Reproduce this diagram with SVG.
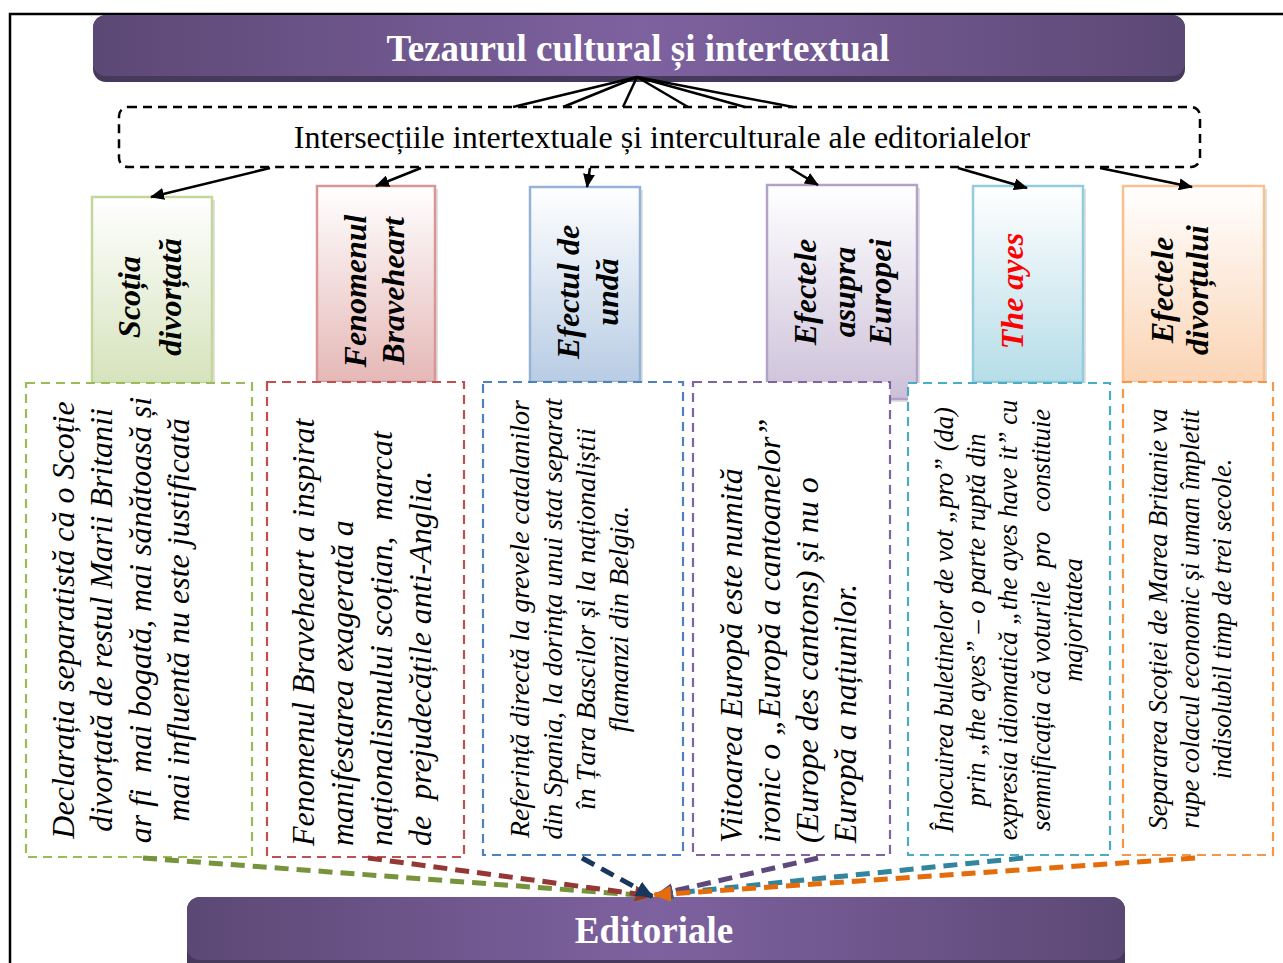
<svg xmlns="http://www.w3.org/2000/svg" width="1283" height="963" viewBox="0 0 1283 963">
<defs>
<style>
.banner-t{font-family:"Liberation Serif","Times New Roman",serif;font-weight:bold;font-size:37px;fill:#fff;text-anchor:middle}
.mid-t{font-family:"Liberation Serif","Times New Roman",serif;font-size:32px;fill:#000;text-anchor:middle}
.head-t{font-family:"Liberation Serif","Times New Roman",serif;font-weight:bold;font-style:italic;font-size:32px;fill:#000;text-anchor:middle}
.body-t{font-family:"Liberation Serif","Times New Roman",serif;font-style:italic;font-size:32px;fill:#000;white-space:pre}
.hbox{stroke-width:2.5}
.tbox{fill:#fff;stroke-width:2.2;stroke-dasharray:9 6}
.topline{stroke:#000;stroke-width:2.5;fill:none}
.arr{stroke:#000;stroke-width:2.5;fill:none;marker-end:url(#ak)}
.barr{stroke-width:5;stroke-dasharray:14 8;fill:none}
</style>
<linearGradient id="bannerG" x1="0" y1="0" x2="1" y2="0">
<stop offset="0" stop-color="#5c4875"/><stop offset="0.5" stop-color="#7e62a0"/><stop offset="1" stop-color="#5c4875"/>
</linearGradient>
<linearGradient id="gG" x1="0" y1="0" x2="0" y2="1"><stop offset="0" stop-color="#fff"/><stop offset="1" stop-color="#d6e3bc"/></linearGradient>
<linearGradient id="gR" x1="0" y1="0" x2="0" y2="1"><stop offset="0" stop-color="#fff"/><stop offset="1" stop-color="#e5b8b7"/></linearGradient>
<linearGradient id="gB" x1="0" y1="0" x2="0" y2="1"><stop offset="0" stop-color="#fff"/><stop offset="1" stop-color="#b8cce4"/></linearGradient>
<linearGradient id="gP" x1="0" y1="0" x2="0" y2="1"><stop offset="0" stop-color="#fff"/><stop offset="1" stop-color="#ccc0d9"/></linearGradient>
<linearGradient id="gT" x1="0" y1="0" x2="0" y2="1"><stop offset="0" stop-color="#fff"/><stop offset="1" stop-color="#b6dde8"/></linearGradient>
<linearGradient id="gO" x1="0" y1="0" x2="0" y2="1"><stop offset="0" stop-color="#fff"/><stop offset="1" stop-color="#fbd4b4"/></linearGradient>
<marker id="ak" viewBox="0 0 14 12" refX="13" refY="6" markerWidth="14" markerHeight="12" markerUnits="userSpaceOnUse" orient="auto"><path d="M0,0 L14,6 L0,12 z" fill="#000"/></marker>
<marker id="mG" viewBox="0 0 18 16" refX="17" refY="8" markerWidth="18" markerHeight="16" markerUnits="userSpaceOnUse" orient="auto"><path d="M0,0 L18,8 L0,16 z" fill="#77933c"/></marker>
<marker id="mR" viewBox="0 0 18 16" refX="17" refY="8" markerWidth="18" markerHeight="16" markerUnits="userSpaceOnUse" orient="auto"><path d="M0,0 L18,8 L0,16 z" fill="#953735"/></marker>
<marker id="mB" viewBox="0 0 18 16" refX="17" refY="8" markerWidth="18" markerHeight="16" markerUnits="userSpaceOnUse" orient="auto"><path d="M0,0 L18,8 L0,16 z" fill="#17375e"/></marker>
<marker id="mP" viewBox="0 0 18 16" refX="17" refY="8" markerWidth="18" markerHeight="16" markerUnits="userSpaceOnUse" orient="auto"><path d="M0,0 L18,8 L0,16 z" fill="#5f497a"/></marker>
<marker id="mT" viewBox="0 0 18 16" refX="17" refY="8" markerWidth="18" markerHeight="16" markerUnits="userSpaceOnUse" orient="auto"><path d="M0,0 L18,8 L0,16 z" fill="#31859c"/></marker>
<marker id="mO" viewBox="0 0 18 16" refX="17" refY="8" markerWidth="18" markerHeight="16" markerUnits="userSpaceOnUse" orient="auto"><path d="M0,0 L18,8 L0,16 z" fill="#e46c0a"/></marker>
</defs>

<rect x="0" y="0" width="1283" height="963" fill="#fff"/>
<g id="frame">
<path d="M10,975 L10,14 L1290,14" fill="none" stroke="#000" stroke-width="2.5"/>
</g>

<g id="title">
<rect x="93" y="15" width="1092" height="67" rx="13" fill="#47395c"/>
<rect x="93" y="15" width="1092" height="61" rx="13" fill="url(#bannerG)"/>
<text class="banner-t" x="638" y="61">Tezaurul cultural și intertextual</text>
</g>

<g id="intersectii">
<rect x="119" y="107" width="1081" height="60" rx="9" fill="#fff" stroke="#000" stroke-width="2.5" stroke-dasharray="9 6"/>
<text class="mid-t" x="662" y="148">Intersecțiile intertextuale și interculturale ale editorialelor</text>
</g>

<g id="head-scotia">
<rect x="95" y="200" width="120" height="186" fill="#000" opacity="0.12"/>
<rect class="hbox" x="92" y="197" width="120" height="186" fill="url(#gG)" stroke="#c3d69b"/>
<text class="head-t" transform="translate(0,297) rotate(-90)"><tspan x="0" y="140">Scoția</tspan><tspan x="0" y="181">divorțată</tspan></text>
</g>
<g id="head-braveheart">
<rect x="320" y="189" width="118" height="196" fill="#000" opacity="0.12"/>
<rect class="hbox" x="317" y="186" width="118" height="196" fill="url(#gR)" stroke="#d99694"/>
<text class="head-t" transform="translate(0,291) rotate(-90)"><tspan x="0" y="366">Fenomenul</tspan><tspan x="0" y="404">Braveheart</tspan></text>
</g>
<g id="head-unda">
<rect x="533" y="190" width="110" height="195" fill="#000" opacity="0.12"/>
<rect class="hbox" x="530" y="187" width="110" height="195" fill="url(#gB)" stroke="#95b3d7"/>
<text class="head-t" transform="translate(0,292) rotate(-90)"><tspan x="0" y="579">Efectul de</tspan><tspan x="0" y="618">undă</tspan></text>
</g>
<g id="head-europa">
<rect x="770" y="188" width="150" height="214" fill="#000" opacity="0.12"/>
<rect class="hbox" x="767" y="185" width="150" height="214" fill="url(#gP)" stroke="#b3a2c7"/>
<text class="head-t" transform="translate(0,292) rotate(-90)"><tspan x="0" y="816">Efectele</tspan><tspan x="0" y="855">asupra</tspan><tspan x="0" y="891">Europei</tspan></text>
</g>
<g id="head-ayes">
<rect x="976" y="189" width="110" height="196" fill="#000" opacity="0.12"/>
<rect class="hbox" x="973" y="186" width="110" height="196" fill="url(#gT)" stroke="#93cddd"/>
<text class="head-t" transform="translate(0,291) rotate(-90)" style="fill:#ff0000"><tspan x="0" y="1023">The ayes</tspan></text>
</g>
<g id="head-divort">
<rect x="1126" y="189" width="141" height="196" fill="#000" opacity="0.12"/>
<rect class="hbox" x="1123" y="186" width="141" height="196" fill="url(#gO)" stroke="#fac090"/>
<text class="head-t" transform="translate(0,290) rotate(-90)"><tspan x="0" y="1173">Efectele</tspan><tspan x="0" y="1208">divorțului</tspan></text>
</g>

<g id="text-scotia">
<rect class="tbox" x="26" y="383" width="226" height="474" stroke="#9bbb59"/>
<text class="body-t" transform="translate(0,620) rotate(-90)" text-anchor="middle"><tspan x="0" y="74">Declarația separatistă că o Scoție</tspan><tspan x="0" y="112">divorțată de restul Marii Britanii</tspan><tspan x="0" y="151">ar fi  mai bogată, mai sănătoasă și</tspan><tspan x="0" y="189">mai influentă nu este justificată</tspan></text>
</g>
<g id="text-braveheart">
<rect class="tbox" x="267" y="382" width="197" height="475" stroke="#c0504d"/>
<text class="body-t" transform="translate(0,846) rotate(-90)" text-anchor="start"><tspan x="0" y="314">Fenomenul Braveheart a inspirat</tspan><tspan x="0" y="353">manifestarea exagerată a</tspan><tspan x="0" y="392">naționalismului scoțian,  marcat</tspan><tspan x="0" y="431">de  prejudecățile anti-Anglia.</tspan></text>
</g>
<g id="text-unda">
<rect class="tbox" x="483" y="382" width="200" height="473" stroke="#4f81bd"/>
<text class="body-t" transform="translate(0,619) rotate(-90)" text-anchor="middle" style="font-size:28px"><tspan x="0" y="529">Referință directă la grevele catalanilor</tspan><tspan x="0" y="562">din Spania, la dorința unui stat separat</tspan><tspan x="0" y="595">în Țara Bascilor și la naționaliștii</tspan><tspan x="0" y="628">flamanzi din Belgia.</tspan></text>
</g>
<g id="text-europa">
<rect class="tbox" x="693" y="382" width="197" height="473" stroke="#8064a2"/>
<text class="body-t" transform="translate(0,843) rotate(-90)" text-anchor="start"><tspan x="0" y="742">Viitoarea Europă este numită</tspan><tspan x="0" y="780">ironic o „Europă a cantoanelor”</tspan><tspan x="0" y="818">(Europe des cantons) și nu o</tspan><tspan x="0" y="856">Europă a națiunilor.</tspan></text>
</g>
<g id="text-ayes">
<rect class="tbox" x="908" y="383" width="202" height="472" stroke="#4bacc6"/>
<text class="body-t" transform="translate(0,620) rotate(-90)" text-anchor="middle" style="font-size:26.5px"><tspan x="0" y="953">Înlocuirea buletinelor de vot „pro” (da)</tspan><tspan x="0" y="985">prin „the ayes” – o parte ruptă din</tspan><tspan x="0" y="1017">expresia idiomatică „the ayes have it” cu</tspan><tspan x="0" y="1050">semnificația că voturile  pro   constituie</tspan><tspan x="0" y="1082">majoritatea</tspan></text>
</g>
<g id="text-divort">
<rect class="tbox" x="1123" y="382" width="150" height="473" stroke="#f79646"/>
<text class="body-t" transform="translate(0,619) rotate(-90)" text-anchor="middle" style="font-size:26.5px"><tspan x="0" y="1167">Separarea Scoției de Marea Britanie va</tspan><tspan x="0" y="1199">rupe colacul economic și uman împletit</tspan><tspan x="0" y="1231">indisolubil timp de trei secole.</tspan></text>
</g>

<g id="editoriale">
<rect x="187" y="897" width="938" height="90" rx="13" fill="#47395c"/>
<rect x="187" y="897" width="938" height="63" rx="13" fill="url(#bannerG)"/>
<text class="banner-t" x="654" y="943">Editoriale</text>
</g>

<g id="connectors">
<line class="topline" x1="637" y1="77" x2="513" y2="107"/>
<line class="topline" x1="637" y1="77" x2="563" y2="107"/>
<line class="topline" x1="637" y1="77" x2="623" y2="107"/>
<line class="topline" x1="637" y1="77" x2="688" y2="107"/>
<line class="topline" x1="637" y1="77" x2="745" y2="107"/>
<line class="topline" x1="637" y1="77" x2="793" y2="107"/>
<line class="arr" x1="270" y1="168" x2="151" y2="197"/>
<line class="arr" x1="421" y1="168" x2="376" y2="186"/>
<line class="arr" x1="590" y1="168" x2="587" y2="187"/>
<line class="arr" x1="790" y1="168" x2="818" y2="185"/>
<line class="arr" x1="958" y1="168" x2="1027" y2="188"/>
<line class="arr" x1="1100" y1="168" x2="1192" y2="187"/>
<line class="barr" x1="143" y1="858" x2="652" y2="896" stroke="#77933c" marker-end="url(#mG)"/>
<line class="barr" x1="368" y1="858" x2="652" y2="896" stroke="#953735" marker-end="url(#mR)"/>
<line class="barr" x1="1023" y1="858" x2="656" y2="895" stroke="#31859c" marker-end="url(#mT)"/>
<line class="barr" x1="818" y1="858" x2="656" y2="895" stroke="#5f497a" marker-end="url(#mP)"/>
<line class="barr" x1="582" y1="858" x2="653" y2="897" stroke="#17375e" marker-end="url(#mB)"/>
<line class="barr" x1="1195" y1="858" x2="654" y2="895" stroke="#e46c0a" marker-end="url(#mO)"/>
</g>
</svg>
